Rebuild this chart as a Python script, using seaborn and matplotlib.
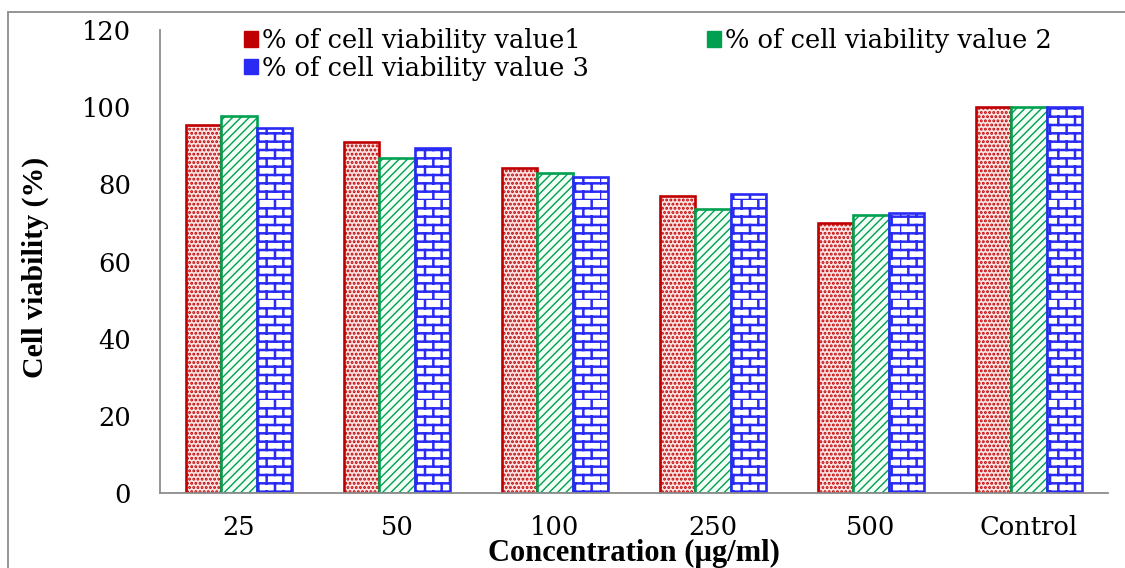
import numpy as np
import pandas as pd
import matplotlib
matplotlib.use("Agg")
import matplotlib.pyplot as plt
import seaborn as sns
from matplotlib import hatch as mhatch
from matplotlib.path import Path
from matplotlib.patches import Rectangle, Patch

# ---- data -------------------------------------------------------------
concentrations = ["25", "50", "100", "250", "500", "Control"]
viability_1 = [95.3, 91.1, 84.3, 77.0, 70.0, 100.0]
viability_2 = [97.6, 86.9, 82.9, 73.5, 72.0, 100.0]
viability_3 = [94.5, 89.4, 82.0, 77.4, 72.6, 100.0]
series_names = [
    "% of cell viability value1",
    "% of cell viability value 2",
    "% of cell viability value 3",
]
y_ticks = [0, 20, 40, 60, 80, 100, 120]


# ---- brick hatch (running bond), used for the 'O' symbol ---------------
class BrickHatch(mhatch.HatchPatternBase):
    def __init__(self, hatch, density):
        n = hatch.count("O")
        self.rows = 2 * n * density
        self.cols = n * density
        self.num_vertices = self.rows * 2 + self.rows * self.cols * 2

    def set_vertices_and_codes(self, vertices, codes):
        h = 1.0 / self.rows
        w = 1.0 / self.cols
        k = 0
        for r in range(self.rows):
            y = r * h
            vertices[k] = (0.0, y)
            vertices[k + 1] = (1.0, y)
            codes[k] = Path.MOVETO
            codes[k + 1] = Path.LINETO
            k += 2
        for r in range(self.rows):
            y0, y1 = r * h, (r + 1) * h
            off = 0.0 if r % 2 == 0 else w / 2
            for c in range(self.cols):
                x = off + c * w
                vertices[k] = (x, y0)
                vertices[k + 1] = (x, y1)
                codes[k] = Path.MOVETO
                codes[k + 1] = Path.LINETO
                k += 2


mhatch._hatch_types = [t for t in mhatch._hatch_types
                       if t is not mhatch.LargeCircles] + [BrickHatch]

# ---- styling ----------------------------------------------------------
sns.set_style("white")
plt.rcParams["font.family"] = ["DejaVu Serif"]
plt.rcParams["text.color"] = "black"
plt.rcParams["axes.labelcolor"] = "black"
plt.rcParams["xtick.color"] = "black"
plt.rcParams["ytick.color"] = "black"
plt.rcParams["hatch.linewidth"] = 1.0

face_colors = ["#FBE3E3", "#F4FFF8", "#FFFFFF"]
edge_colors = ["#C00000", "#00A050", "#2A2AF5"]
hatch_colors = ["#C81E1E", "#35B070", "#2A2AF5"]
hatches = ["....", "////", "O"]
hatch_widths = [1.4, 1.0, 1.8]

df = pd.DataFrame({
    "Concentration": concentrations * 3,
    "Viability": viability_1 + viability_2 + viability_3,
    "Series": np.repeat(series_names, len(concentrations)),
})

fig = plt.figure(figsize=(11.25, 5.68), dpi=100)
ax = fig.add_axes([160 / 1125, 1 - 493 / 568, 948 / 1125, 463 / 568])

sns.barplot(data=df, x="Concentration", y="Viability", hue="Series",
            order=concentrations, hue_order=series_names,
            palette=face_colors, saturation=1, width=0.67,
            errorbar=None, legend=False, ax=ax)

for cont, ec, hc, hp, hw in zip(ax.containers, edge_colors, hatch_colors,
                                hatches, hatch_widths):
    for bar in cont:
        bar.set_edgecolor(ec)
        bar.set_linewidth(1.9)
        bar.set_hatch(hp)
        if hasattr(bar, "set_hatch_linewidth"):
            bar.set_hatch_linewidth(hw)
        if hasattr(bar, "set_hatchcolor"):
            bar.set_hatchcolor(hc)

ax.set_ylim(0, 120)
ax.set_xlim(-0.5, len(concentrations) - 0.5)
ax.set_yticks(y_ticks)
ax.tick_params(axis="both", length=0, labelsize=18.5)
ax.tick_params(axis="y", pad=21)
ax.tick_params(axis="x", pad=16)

for side in ["top", "right"]:
    ax.spines[side].set_visible(False)
for side in ["left", "bottom"]:
    ax.spines[side].set_color("#8C8C8C")
    ax.spines[side].set_linewidth(1.3)

ax.set_xlabel("Concentration (µg/ml)", family="Liberation Serif",
              fontweight="bold", fontsize=22, va="center")
ax.xaxis.set_label_coords(0.5, (493 - 553) / 463)
ax.set_ylabel("Cell viability (%)", family="Liberation Serif",
              fontweight="bold", fontsize=21.5, va="center")
ax.yaxis.set_label_coords((35 - 160) / 948, (493 - 267) / 463)

# legend laid out row-wise: value1, value 2 / value 3
handles = []
for ec, hp in zip(edge_colors, hatches):
    try:
        h = Patch(facecolor=ec, edgecolor=ec, hatch=hp, hatchcolor="white",
                  linewidth=1.0)
    except (TypeError, AttributeError):
        h = Patch(facecolor=ec, edgecolor=ec, linewidth=1.0)
    handles.append(h)
order = [0, 2, 1]
fig.legend([handles[i] for i in order], [series_names[i] for i in order],
           ncol=2, loc="upper left",
           bbox_to_anchor=(244 / 1125, 1 - 28 / 568),
           bbox_transform=fig.transFigure, frameon=False,
           fontsize=18.5, handlelength=0.55, handleheight=0.55,
           handletextpad=0.15, columnspacing=4.6, labelspacing=0.1,
           borderpad=0, borderaxespad=0)

# outer frame of the figure
fig.patches.append(Rectangle((8 / 1125, -0.05), 1.2, 1 - 12 / 568 + 0.05,
                             transform=fig.transFigure, fill=False,
                             edgecolor="#8C8C8C", linewidth=1.3))

fig.savefig("out.png", dpi=100)
